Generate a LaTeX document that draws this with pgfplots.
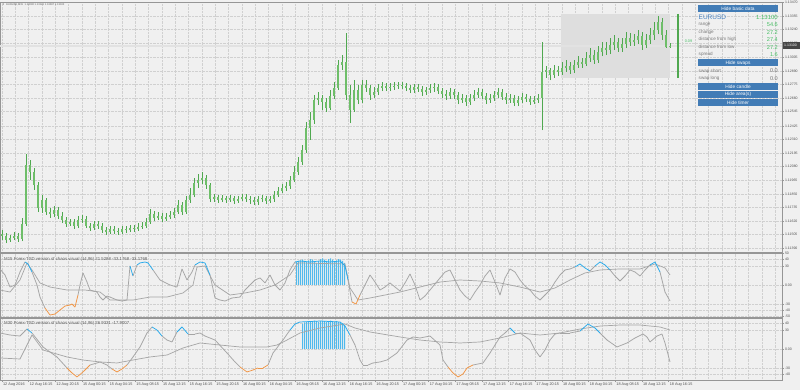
\documentclass[border=0pt]{standalone}
\usepackage{pgfplots}
\pgfplotsset{compat=1.18}
\usepackage{pgfplotstable}
\usepackage{fontspec}
\setmainfont{Liberation Sans}
\newfontfamily\dejavu{DejaVu Sans}
\newcommand\fs[1]{\fontsize{#1pt}{#1pt}\selectfont}

\definecolor{bgc}{RGB}{240,240,240}
\definecolor{gridc}{RGB}{208,208,208}
\definecolor{axisc}{RGB}{150,150,150}
\definecolor{tickc}{RGB}{80,80,80}
\definecolor{titlec}{RGB}{90,90,90}
\definecolor{cwick}{RGB}{80,168,80}
\definecolor{cbody}{RGB}{110,190,105}
\definecolor{rectc}{RGB}{222,222,222}
\definecolor{pricel}{RGB}{226,226,226}
\definecolor{tsdgray}{RGB}{165,165,165}
\definecolor{tsdblue}{RGB}{40,170,235}
\definecolor{tsdorange}{RGB}{240,150,70}
\definecolor{barblue}{RGB}{80,185,236}
\definecolor{btn}{RGB}{66,124,182}
\definecolor{valgreen}{RGB}{70,190,100}
\definecolor{eurblue}{RGB}{70,130,195}
\definecolor{lblgray}{RGB}{120,120,120}
\definecolor{pbox}{RGB}{70,70,70}

\pgfplotsset{colormap={tsd}{color(0cm)=(tsdorange) color(24cm)=(tsdgray) color(76cm)=(tsdblue) color(100cm)=(tsdblue)}}

\pgfplotsset{
  mtpane/.style={
    scale only axis, width=782pt, xmin=0, xmax=782,
    anchor=south west,
    axis background/.style={fill=bgc},
    axis line style={draw=axisc, line width=0.7pt},
    grid=both,
    major grid style={draw=gridc, densely dotted, line width=0.4pt},
    minor grid style={draw=gridc, densely dotted, line width=0.4pt},
    xtick={2,28.6667,...,670},
    minor xtick={2,15.3333,...,782},
    ytick pos=right, yticklabel pos=right,
    tick align=outside, major tick length=2pt, minor tick length=0pt,
    ytick style={draw=axisc, line width=0.4pt},
    yticklabel style={font=\fs{3.5}, text=tickc, inner sep=0.8pt},
  },
  tsdpane/.style={
    ytick={-50,-40,-30,0,30,40,50},
    yticklabels={-50,-40,-30,0.00,30,40,50},
    point meta min=-50, point meta max=50,
    colormap name=tsd, colormap access=piecewise constant,
  },
  tsdbars/.style={ybar, bar width=1pt, bar shift=0.5pt, fill=barblue, draw=none},
}

\pgfplotstableread{
x o h l c
2 1.11510 1.11544 1.11460 1.11493
6 1.11493 1.11519 1.11434 1.11460
10 1.11460 1.11502 1.11443 1.11477
14 1.11477 1.11527 1.11460 1.11493
18 1.11493 1.11519 1.11443 1.11468
22 1.11468 1.11646 1.11451 1.11595
26 1.11595 1.12187 1.11578 1.12094
30 1.12094 1.12136 1.11967 1.12035
34 1.12035 1.12069 1.11883 1.11925
38 1.11925 1.11950 1.11696 1.11730
42 1.11730 1.11840 1.11688 1.11798
46 1.11798 1.11815 1.11671 1.11696
50 1.11696 1.11730 1.11646 1.11680
54 1.11680 1.11747 1.11654 1.11713
58 1.11713 1.11739 1.11637 1.11663
62 1.11663 1.11696 1.11603 1.11629
66 1.11629 1.11654 1.11570 1.11595
70 1.11595 1.11637 1.11578 1.11612
74 1.11612 1.11637 1.11553 1.11578
78 1.11578 1.11663 1.11561 1.11629
82 1.11629 1.11671 1.11603 1.11637
86 1.11637 1.11663 1.11561 1.11578
90 1.11578 1.11603 1.11536 1.11561
94 1.11561 1.11620 1.11544 1.11595
98 1.11595 1.11620 1.11553 1.11578
102 1.11578 1.11603 1.11519 1.11544
106 1.11544 1.11570 1.11502 1.11527
110 1.11527 1.11578 1.11510 1.11553
114 1.11553 1.11578 1.11510 1.11536
118 1.11536 1.11561 1.11502 1.11527
122 1.11527 1.11578 1.11510 1.11553
126 1.11553 1.11578 1.11519 1.11544
130 1.11544 1.11587 1.11527 1.11561
134 1.11561 1.11587 1.11527 1.11553
138 1.11553 1.11603 1.11536 1.11570
142 1.11570 1.11612 1.11553 1.11578
146 1.11578 1.11646 1.11561 1.11612
150 1.11612 1.11722 1.11595 1.11680
154 1.11680 1.11705 1.11620 1.11646
158 1.11646 1.11696 1.11629 1.11663
162 1.11663 1.11688 1.11612 1.11637
166 1.11637 1.11688 1.11620 1.11654
170 1.11654 1.11705 1.11637 1.11671
174 1.11671 1.11730 1.11646 1.11696
178 1.11696 1.11798 1.11680 1.11756
182 1.11756 1.11781 1.11671 1.11696
186 1.11696 1.11832 1.11680 1.11798
190 1.11798 1.11900 1.11773 1.11840
194 1.11840 1.11984 1.11823 1.11942
198 1.11942 1.12018 1.11900 1.11967
202 1.11967 1.12035 1.11933 1.11984
206 1.11984 1.12010 1.11891 1.11925
210 1.11925 1.11942 1.11781 1.11806
214 1.11806 1.11849 1.11781 1.11823
218 1.11823 1.11840 1.11773 1.11798
222 1.11798 1.11840 1.11781 1.11815
226 1.11815 1.11832 1.11773 1.11798
230 1.11798 1.11840 1.11781 1.11815
234 1.11815 1.11832 1.11764 1.11790
238 1.11790 1.11832 1.11773 1.11806
242 1.11806 1.11849 1.11790 1.11823
246 1.11823 1.11849 1.11781 1.11806
250 1.11806 1.11832 1.11764 1.11798
254 1.11798 1.11823 1.11756 1.11781
258 1.11781 1.11832 1.11756 1.11806
262 1.11806 1.11840 1.11781 1.11815
266 1.11815 1.11832 1.11764 1.11790
270 1.11790 1.11832 1.11773 1.11806
274 1.11806 1.11874 1.11781 1.11840
278 1.11840 1.11908 1.11823 1.11874
282 1.11874 1.11933 1.11857 1.11900
286 1.11900 1.11950 1.11874 1.11916
290 1.11916 1.12001 1.11891 1.11967
294 1.11967 1.12086 1.11950 1.12035
298 1.12035 1.12162 1.12010 1.12120
302 1.12120 1.12263 1.12094 1.12221
306 1.12221 1.12458 1.12196 1.12407
310 1.12407 1.12543 1.12306 1.12475
314 1.12475 1.12686 1.12441 1.12644
318 1.12644 1.12712 1.12602 1.12661
322 1.12661 1.12686 1.12559 1.12627
326 1.12627 1.12661 1.12543 1.12576
330 1.12576 1.12729 1.12559 1.12678
334 1.12678 1.12796 1.12652 1.12746
338 1.12746 1.12982 1.12729 1.12940
342 1.12940 1.13025 1.12898 1.12966
346 1.12966 1.13211 1.12644 1.12686
350 1.12686 1.12771 1.12449 1.12559
354 1.12559 1.12813 1.12543 1.12729
358 1.12729 1.12771 1.12610 1.12644
362 1.12644 1.12813 1.12619 1.12771
366 1.12771 1.12813 1.12712 1.12746
370 1.12746 1.12771 1.12644 1.12686
374 1.12686 1.12754 1.12661 1.12712
378 1.12712 1.12779 1.12686 1.12746
382 1.12746 1.12796 1.12720 1.12762
386 1.12762 1.12788 1.12720 1.12746
390 1.12746 1.12788 1.12720 1.12754
394 1.12754 1.12796 1.12729 1.12762
398 1.12762 1.12796 1.12737 1.12771
402 1.12771 1.12796 1.12737 1.12762
406 1.12762 1.12788 1.12720 1.12746
410 1.12746 1.12771 1.12703 1.12729
414 1.12729 1.12779 1.12703 1.12754
418 1.12754 1.12779 1.12712 1.12737
422 1.12737 1.12762 1.12678 1.12712
426 1.12712 1.12754 1.12686 1.12729
430 1.12729 1.12779 1.12703 1.12746
434 1.12746 1.12788 1.12712 1.12754
438 1.12754 1.12779 1.12695 1.12720
442 1.12720 1.12746 1.12661 1.12695
446 1.12695 1.12729 1.12644 1.12678
450 1.12678 1.12746 1.12652 1.12712
454 1.12712 1.12737 1.12652 1.12686
458 1.12686 1.12712 1.12610 1.12644
462 1.12644 1.12695 1.12619 1.12661
466 1.12661 1.12686 1.12593 1.12627
470 1.12627 1.12695 1.12602 1.12661
474 1.12661 1.12729 1.12636 1.12686
478 1.12686 1.12746 1.12661 1.12712
482 1.12712 1.12737 1.12652 1.12678
486 1.12678 1.12703 1.12610 1.12644
490 1.12644 1.12695 1.12619 1.12661
494 1.12661 1.12720 1.12636 1.12686
498 1.12686 1.12746 1.12661 1.12712
502 1.12712 1.12737 1.12644 1.12669
506 1.12669 1.12703 1.12610 1.12644
510 1.12644 1.12695 1.12619 1.12661
514 1.12661 1.12686 1.12593 1.12619
518 1.12619 1.12678 1.12593 1.12644
522 1.12644 1.12703 1.12619 1.12669
526 1.12669 1.12695 1.12627 1.12652
530 1.12652 1.12678 1.12602 1.12627
534 1.12627 1.12678 1.12610 1.12644
538 1.12644 1.12695 1.12619 1.12661
542 1.12661 1.13135 1.12390 1.12881
546 1.12881 1.12932 1.12830 1.12898
550 1.12898 1.12915 1.12813 1.12856
554 1.12856 1.12940 1.12830 1.12898
558 1.12898 1.12932 1.12847 1.12881
562 1.12881 1.12966 1.12856 1.12915
566 1.12915 1.12982 1.12881 1.12932
570 1.12932 1.12966 1.12864 1.12898
574 1.12898 1.12982 1.12872 1.12940
578 1.12940 1.13016 1.12915 1.12966
582 1.12966 1.12999 1.12915 1.12949
586 1.12949 1.13050 1.12932 1.12999
590 1.12999 1.13084 1.12966 1.13025
594 1.13025 1.13067 1.12949 1.12982
598 1.12982 1.13101 1.12957 1.13050
602 1.13050 1.13135 1.13016 1.13084
606 1.13084 1.13135 1.13025 1.13067
610 1.13067 1.13169 1.13033 1.13109
614 1.13109 1.13194 1.13067 1.13135
618 1.13135 1.13169 1.13050 1.13084
622 1.13084 1.13169 1.13050 1.13118
626 1.13118 1.13219 1.13084 1.13169
630 1.13169 1.13211 1.13101 1.13135
634 1.13135 1.13202 1.13101 1.13152
638 1.13152 1.13236 1.13118 1.13185
642 1.13185 1.13219 1.13067 1.13109
646 1.13109 1.13202 1.13084 1.13152
650 1.13152 1.13253 1.13118 1.13194
654 1.13194 1.13304 1.13152 1.13236
658 1.13236 1.13355 1.13202 1.13304
662 1.13304 1.13338 1.13152 1.13194
666 1.13194 1.13236 1.13084 1.13090
670 1.13090 1.13126 1.13087 1.13100
}\candles

\pgfplotstableread{
x v
0 25.3
5 15.8
10 -3.2
15 0
20 20.5
25 36.3
28 33.2
32 20.5
37 0
40 -19.0
45 -36.3
50 -47.4
55 -45.8
60 -39.5
65 -33.2
70 -31.6
72 -30.0
75 -34.8
78 -15.8
80 0
83 19.0
87 4.7
90 -7.9
97 -11.1
100 -19.0
103 -23.7
107 -17.4
110 -19.0
117 -23.7
122 -25.3
127 -23.7
130 30.0
133 14.2
137 31.6
140 34.8
145 36.3
148 34.8
153 23.7
160 7.9
170 0
177 -3.2
182 25.3
187 7.9
192 20.5
195 31.6
200 36.3
205 34.8
210 15.8
215 -20.5
220 -23.7
225 -25.3
232 -20.5
240 -19.0
245 -7.9
250 0
255 7.9
260 11.1
265 3.2
270 15.8
275 0
280 -7.9
285 3.2
290 23.7
295 36.3
300 37.9
310 36.3
320 37.9
330 36.3
340 37.9
345 30.0
348 7.9
352 -26.9
356 -30.0
360 -15.8
365 0
370 15.8
375 4.7
380 -7.9
385 -3.2
390 3.2
395 -3.2
400 -9.5
405 3.2
410 17.4
415 0
420 -23.7
425 -17.4
430 -7.9
435 1.6
440 11.1
445 20.5
450 23.7
455 7.9
460 -7.9
465 -17.4
470 -23.7
475 -11.1
480 0
485 14.2
490 23.7
495 4.7
500 -15.8
505 11.1
510 25.3
515 20.5
520 7.9
525 -1.6
530 -7.9
535 -17.4
540 -23.7
545 -15.8
550 -7.9
555 4.7
560 15.8
565 23.7
570 25.3
575 28.4
580 33.2
585 26.9
590 22.1
595 30.0
600 36.3
605 31.6
610 23.7
615 14.2
620 6.3
625 14.2
630 23.7
635 20.5
640 14.2
645 23.7
650 31.6
655 36.3
660 20.5
665 -11.1
670 -25.3
}\pOneA

\pgfplotstableread{
x v
0 -7.9
10 -11.1
20 7.9
27 34.8
32 23.7
40 3.2
50 -3.2
67 -7.9
85 -7.9
100 -11.1
110 -23.7
133 -23.7
150 -19.0
167 -19.0
183 -12.6
193 0
197 28.4
205 30.0
215 0
230 -15.8
245 -12.6
260 -7.9
275 0
290 15.8
298 34.8
345 33.2
350 -4.7
358 -23.7
370 -20.5
385 -15.8
400 -11.1
420 -3.2
440 4.7
460 7.9
480 6.3
500 3.2
520 -3.2
540 -11.1
555 -4.7
570 7.9
585 19.0
600 23.7
620 25.3
640 25.3
655 33.2
665 26.9
670 15.8
}\pOneB

\pgfplotstableread{
x v
296 36
298 38
300 39
302 40
304 38
306 36
308 39
310 41
312 40
314 37
316 35
318 38
320 41
322 42
324 40
326 38
328 41
330 42
332 40
334 37
336 39
338 41
340 40
342 38
344 35
}\pOneH

\pgfplotstableread{
x v
0 25.3
10 22.1
20 20.5
27 31.6
32 25.3
43 3.2
57 -12.6
67 -30.0
72 -37.9
77 -44.2
83 -36.3
90 -25.3
97 -22.1
100 -20.5
107 -25.3
112 -31.6
117 -36.3
122 -31.6
127 -25.3
133 -12.6
140 3.2
147 25.3
152 34.8
157 30.0
162 20.5
167 14.2
172 11.1
177 26.9
182 34.8
188 23.7
195 23.7
200 25.3
205 20.5
215 14.2
227 -6.3
235 -20.5
240 -28.4
247 -36.3
253 -33.2
258 -30.0
263 -30.0
268 -25.3
273 -6.3
283 14.2
290 30.0
295 39.5
300 42.7
320 44.2
340 42.7
345 36.3
350 22.1
355 6.3
360 -17.4
363 -25.3
368 -25.3
373 -22.1
380 -20.5
387 -17.4
397 -6.3
407 14.2
413 19.0
420 17.4
430 20.5
440 6.3
443 -17.4
448 -28.4
453 -37.9
458 -44.2
463 -39.5
467 -30.0
473 -25.3
483 -22.1
490 -6.3
495 6.3
500 19.0
505 25.3
510 33.2
515 25.3
520 25.3
530 14.2
535 -1.6
540 -12.6
545 -1.6
550 14.2
555 23.7
560 25.3
570 25.3
580 28.4
588 39.5
595 33.2
600 25.3
607 14.2
617 3.2
627 9.5
635 17.4
643 23.7
647 19.0
650 11.1
657 20.5
662 23.7
665 9.5
670 -20.5
}\pTwoA

\pgfplotstableread{
x v
0 -14.2
20 -15.8
27 6.3
32 22.1
43 -1.6
67 -12.6
83 -17.4
100 -20.5
117 -22.1
133 -17.4
150 -12.6
167 -9.5
183 1.6
200 9.5
220 6.3
240 3.2
267 3.2
277 6.3
287 14.2
300 25.3
320 33.2
345 39.5
355 33.2
370 26.9
400 19.0
420 14.2
440 11.1
460 9.5
480 11.1
500 17.4
520 25.3
540 22.1
560 25.3
580 31.6
600 36.3
620 37.9
640 37.9
660 34.8
670 30.0
}\pTwoB

\pgfplotstableread{
x v
302 40
304 42
306 43
308 44
310 43
312 44
314 45
316 44
318 43
320 44
322 45
324 44
326 43
328 44
330 45
332 44
334 43
336 44
338 43
340 42
342 41
344 38
}\pTwoH

\begin{document}
\begin{tikzpicture}[x=1pt,y=1pt]
\useasboundingbox (0,0) rectangle (800,390);
\fill[bgc] (0,0) rectangle (800,390);

% ---------------- main price pane ----------------
\begin{axis}[mtpane, at={(0pt,138pt)}, height=250pt,
  ymin=1.11358, ymax=1.13473,
  ytick={1.11390,1.11505,1.11620,1.11735,1.11850,1.11965,1.12080,1.12195,1.12310,1.12425,1.12545,1.12660,1.12775,1.12890,1.13005,1.13125,1.13240,1.13355,1.13470},
  yticklabels={1.11390,1.11505,1.11620,1.11735,1.11850,1.11965,1.12080,1.12195,1.12310,1.12425,1.12545,1.12660,1.12775,1.12890,1.13005,1.13125,1.13240,1.13355,1.13470},
  xticklabels={}, xtick style={draw=none}]
\addplot[fill=rectc, draw=none] coordinates {(561,1.13372) (670,1.13372) (670,1.12830) (561,1.12830)} -- cycle;
\addplot[draw=pricel, line width=1.6pt] coordinates {(0,1.13100) (782,1.13100)};
\addplot[draw=none, mark=none, error bars/.cd, y dir=plus, y explicit, error mark=none,
  error bar style={draw=cwick, line width=0.7pt, solid}]
  table[x=x, y=l, y error plus expr={\thisrow{h}-\thisrow{l}}] {\candles};
\addplot[draw=none, mark=none, error bars/.cd, y dir=plus, y explicit, error mark=none,
  error bar style={draw=cbody, line width=2.1pt, solid}]
  table[x=x, y expr={min(\thisrow{o},\thisrow{c})}, y error plus expr={abs(\thisrow{c}-\thisrow{o})}] {\candles};
\addplot[draw=cwick, line width=1.3pt] coordinates {(678,1.13372) (678,1.12830)};
\end{axis}

% ---------------- indicator pane 1 ----------------
\begin{axis}[mtpane, tsdpane, at={(0pt,73pt)}, height=64pt,
  ymin=-50.5, ymax=50.5, xticklabels={}, xtick style={draw=none}]
\addplot[tsdbars] table[x=x,y=v] {\pOneH};
\addplot[draw=tsdgray, line width=0.7pt] table[x=x,y=v] {\pOneB};
\addplot[mesh, shader=flat corner, point meta=y, line width=0.75pt] table[x=x,y=v] {\pOneA};
\end{axis}

% ---------------- indicator pane 2 ----------------
\begin{axis}[mtpane, tsdpane, at={(0pt,10pt)}, height=62pt,
  ymin=-49, ymax=49,
  xtick pos=left, xtick style={draw=axisc, line width=0.4pt},
  xticklabels={12 Aug 2016,12 Aug 16:15,12 Aug 20:15,15 Aug 00:15,15 Aug 04:15,15 Aug 08:15,15 Aug 12:15,15 Aug 16:15,15 Aug 20:15,16 Aug 00:15,16 Aug 04:15,16 Aug 08:15,16 Aug 12:15,16 Aug 16:15,16 Aug 20:15,17 Aug 00:15,17 Aug 04:15,17 Aug 08:15,17 Aug 12:15,17 Aug 16:15,17 Aug 20:15,18 Aug 00:15,18 Aug 04:15,18 Aug 08:15,18 Aug 12:15,18 Aug 16:15},
  xticklabel style={anchor=north west, font=\fs{3.8}, text=tickc, inner sep=0.6pt, xshift=0.3pt}]
\addplot[tsdbars] table[x=x,y=v] {\pTwoH};
\addplot[draw=tsdgray, line width=0.7pt] table[x=x,y=v] {\pTwoB};
\addplot[mesh, shader=flat corner, point meta=y, line width=0.75pt] table[x=x,y=v] {\pTwoA};
\end{axis}

% ---------------- titles ----------------
\node[anchor=west, inner sep=0, font=\dejavu\fs{2.8}, text=titlec] at (2.5,385) {▾};
\node[anchor=west, inner sep=0, font=\fs{2.6}, text=titlec] at (6.2,385) {EURUSD,M15\ \ 1.13090 1.13126 1.13087 1.13100};
\node[anchor=west, inner sep=0, font=\fs{4.3}, text=titlec] at (4,131) {M15 Forex-TSD version of chaos visual (14,96) 21.5288 -33.1768 -33.1768};
\node[anchor=west, inner sep=0, font=\fs{4.3}, text=titlec] at (4,67) {M30 Forex-TSD version of chaos visual (14,96) 26.9331 -17.9007};

% current price box
\fill[pbox] (782.6,341.2) rectangle (800,347.6);
\node[anchor=west, inner sep=0, font=\fs{3.5}, text=white] at (784,344.4) {1.13100};
\node[inner sep=0, font=\fs{3.8}, text=valgreen] at (688.5,348.5) {0.09};

% ---------------- info panel ----------------
\fill[btn] (698,377.5) rectangle (778,385);
\node[inner sep=0, font=\fs{4.8}, text=white] at (738,381.2) {Hide basic data};
\node[anchor=west, inner sep=0, font=\fs{6.5}, text=eurblue] at (698.5,373) {EURUSD};
\node[anchor=east, inner sep=0, font=\fs{6}, text=valgreen] at (778,373) {1.13100};
\node[anchor=west, inner sep=0, font=\fs{4.6}, text=lblgray] at (698.5,365.3) {range};
\node[anchor=east, inner sep=0, font=\fs{5.6}, text=valgreen] at (778,365.3) {54.6};
\node[anchor=west, inner sep=0, font=\fs{4.6}, text=lblgray] at (698.5,357.8) {change};
\node[anchor=east, inner sep=0, font=\fs{5.6}, text=valgreen] at (778,357.8) {27.2};
\node[anchor=west, inner sep=0, font=\fs{4.6}, text=lblgray] at (698.5,350.3) {distance from high};
\node[anchor=east, inner sep=0, font=\fs{5.6}, text=valgreen] at (778,350.3) {27.4};
\node[anchor=west, inner sep=0, font=\fs{4.6}, text=lblgray] at (698.5,342.8) {distance from low};
\node[anchor=east, inner sep=0, font=\fs{5.6}, text=valgreen] at (778,342.8) {27.2};
\node[anchor=west, inner sep=0, font=\fs{4.6}, text=lblgray] at (698.5,335.3) {spread};
\node[anchor=east, inner sep=0, font=\fs{5.6}, text=valgreen] at (778,335.3) {1.6};
\fill[btn] (698,323.5) rectangle (778,331);
\node[inner sep=0, font=\fs{4.8}, text=white] at (738,327.2) {Hide swaps};
\node[anchor=west, inner sep=0, font=\fs{4.6}, text=lblgray] at (698.5,319) {swap short};
\node[anchor=east, inner sep=0, font=\fs{5.6}, text=lblgray] at (778,319) {0.0};
\node[anchor=west, inner sep=0, font=\fs{4.6}, text=lblgray] at (698.5,311.5) {swap long};
\node[anchor=east, inner sep=0, font=\fs{5.6}, text=lblgray] at (778,311.5) {0.0};
\fill[btn] (698,300) rectangle (778,307.2);
\node[inner sep=0, font=\fs{4.8}, text=white] at (738,303.6) {Hide candle};
\fill[btn] (698,292.2) rectangle (778,299.2);
\node[inner sep=0, font=\fs{4.8}, text=white] at (738,295.7) {Hide area(s)};
\fill[btn] (698,284.2) rectangle (778,291.2);
\node[inner sep=0, font=\fs{4.8}, text=white] at (738,287.7) {Hide timer};
\end{tikzpicture}
\end{document}
